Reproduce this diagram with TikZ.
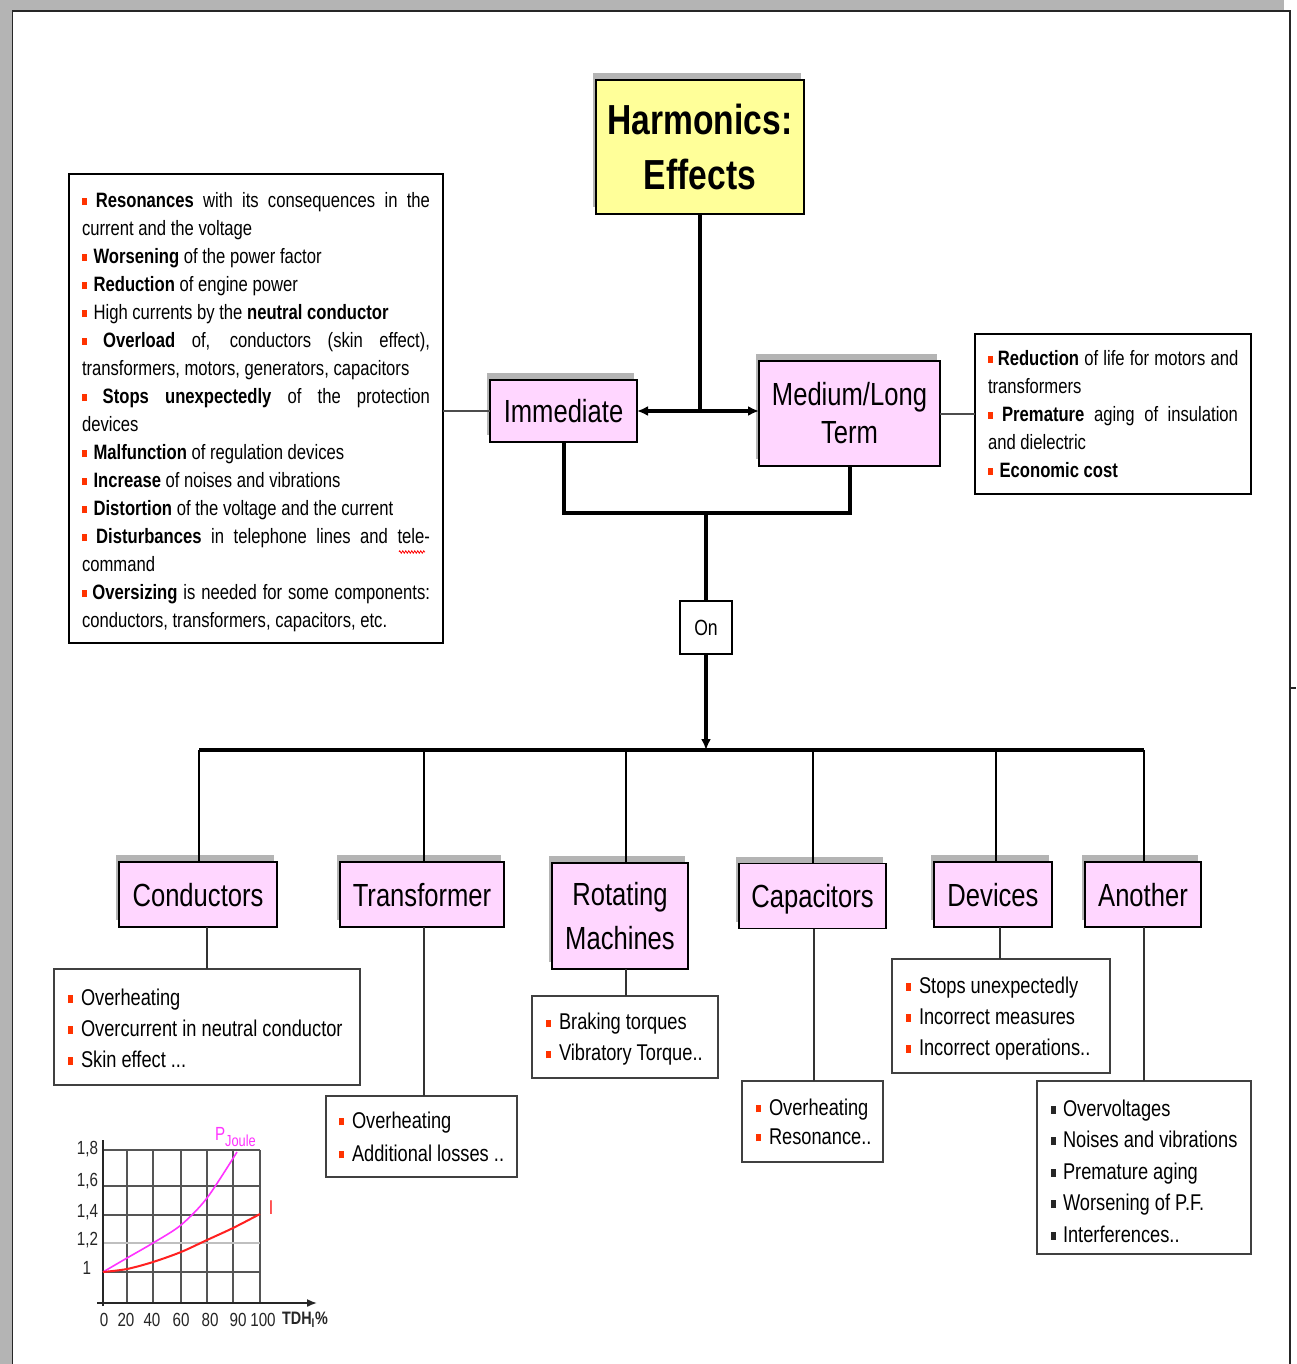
\documentclass[tikz,border=0pt]{standalone}
\usepackage{fontspec}
\setmainfont{Liberation Sans}[FakeStretch=0.8]
\usetikzlibrary{arrows.meta,calc,shadows,decorations.pathmorphing}
\definecolor{pinkbox}{HTML}{FFD6FF}
\definecolor{yelbox}{HTML}{FFFF99}
\definecolor{bred}{HTML}{FF3300}
\definecolor{shad}{HTML}{B4B4B4}
\definecolor{pagegray}{HTML}{B4B4B4}
\definecolor{magc}{HTML}{FF33FF}
\definecolor{curvered}{HTML}{FF2020}
\definecolor{gridc}{HTML}{555555}
\newcommand\bu{\textcolor{bred}{\rule[0.12em]{0.22em}{0.34em}}}
\newcommand\bt{\textcolor{bred}{\rule[0.12em]{0.22em}{0.34em}}\hspace{7pt}}
\newcommand\lb[1]{\mbox{\textcolor{bred}{\rule[0.12em]{0.22em}{0.34em}}\hspace{8pt}#1}}
\newcommand\bk[1]{\mbox{\textcolor{black!85}{\rule[0.12em]{0.22em}{0.34em}}\hspace{7pt}#1}}
\newcommand\jline[2]{\makebox[#1][s]{\spaceskip=0.25em plus 1fil\relax #2}}
\begin{document}
\begin{tikzpicture}[x=1pt,y=-1pt,
  every node/.style={inner sep=0pt,outer sep=0pt},
  shd/.style={drop shadow={shadow xshift=-3pt,shadow yshift=7pt,fill=shad,opacity=1}},
  labelbox/.style={shd,draw=black,line width=1.6,fill=pinkbox,align=center,font=\fontsize{32}{38}\selectfont},
  oneline/.style={text height=29pt,text depth=6pt},
  harmbox/.style={shd,draw=black,line width=1.6,fill=yelbox,align=center,font=\bfseries\fontsize{42}{55}\selectfont},
  listbox/.style={draw=black!75,line width=1.4,fill=white,align=flush left,inner xsep=14pt,inner ysep=0pt,anchor=north west,font=\fontsize{22.8}{31}\selectfont},
  tbox/.style={draw=black,line width=1.6,fill=white,align=flush left,inner xsep=13pt,inner ysep=0pt,anchor=north west,font=\fontsize{20.8}{28}\selectfont},
  mainline/.style={line width=3.2,black},
  uline/.style={line width=4,black},
  dropline/.style={line width=2.4,black},
  subline/.style={line width=1.5,black!80},
  sideline/.style={line width=2,black!70},
  arr/.style={-{Latex[length=11,width=10]}},
  chartlbl/.style={font=\fontsize{19}{20}\selectfont,text=black!85}
]
\useasboundingbox (0,0) rectangle (1296,1364);
% page
\fill[pagegray] (0,0) rectangle (1296,1364);
\fill[white] (12,11) rectangle (1296,1364);
\fill[white] (1284,0) rectangle (1296,11);
\draw[line width=2.5,black!85] (12,11) -- (1291,11);
\draw[line width=1.5,black!85] (12.5,11) -- (12.5,1364);
\draw[line width=1.5,black!85] (1290,11) -- (1290,1364);
\draw[line width=2,black!85] (1290,688) -- (1296,688);

% top nodes
\node[harmbox,minimum width=208,minimum height=134] (harm) at (700,147) {Harmonics:\\Effects};
\node[labelbox,oneline,minimum width=147,minimum height=62] (imm) at (563.5,411) {Immediate};
\node[labelbox,minimum width=181,minimum height=105] (med) at (849.5,413.5) {Medium/Long\\Term};
\node[draw=black,line width=1.4,fill=white,minimum width=52,minimum height=53,font=\fontsize{22}{26}\selectfont] (on) at (706,627.5) {On};

% left text box
\node[tbox,minimum width=374,minimum height=469,text width=348pt] (ltext) at (69,174) {%
\vphantom{Ag}\\[-20pt]
\jline{348pt}{\bu\ \textbf{Resonances} with its consequences in the}\\
current and the voltage\\
\bt\textbf{Worsening} of the power factor\\
\bt\textbf{Reduction} of engine power\\
\bt High currents by the \textbf{neutral conductor}\\
\jline{348pt}{\bu\ \textbf{Overload} of, conductors (skin effect),}\\
transformers, motors, generators, capacitors\\
\jline{348pt}{\bu\ \textbf{Stops unexpectedly} of the protection}\\
devices\\
\bt\textbf{Malfunction} of regulation devices\\
\bt\textbf{Increase} of noises and vibrations\\
\bt\textbf{Distortion} of the voltage and the current\\
\jline{348pt}{\bu\ \textbf{Disturbances} in telephone lines and tele-}\\
command\\
\jline{348pt}{\bu\ \textbf{Oversizing} is needed for some components:}\\
conductors, transformers, capacitors, etc.};

% right text box
\node[tbox,minimum width=276,minimum height=160,text width=250pt] (rtext) at (975,334) {%
\jline{250pt}{\bu\ \textbf{Reduction} of life for motors and}\\
transformers\\
\jline{250pt}{\bu\ \textbf{Premature} aging of insulation}\\
and dielectric\\
\bt\textbf{Economic cost}};

% bottom category nodes
\node[labelbox,oneline,minimum width=158,minimum height=65] (cond) at (198,894.5) {Conductors};
\node[labelbox,oneline,minimum width=164,minimum height=65] (trans) at (422,894.5) {Transformer};
\node[labelbox,minimum width=136,minimum height=106,font=\fontsize{32}{44}\selectfont] (rot) at (620,916) {Rotating\\Machines};
\node[labelbox,oneline,minimum width=147,minimum height=65] (cap) at (812.5,896) {Capacitors};
\node[labelbox,oneline,minimum width=118,minimum height=65] (dev) at (993,894.5) {Devices};
\node[labelbox,oneline,minimum width=116,minimum height=65] (ano) at (1143,894.5) {Another};

% lists
\node[listbox,minimum width=306,minimum height=116,text width=278pt] (lcond) at (54,969) {\vphantom{A}\\[-27pt]\lb{Overheating}\\\lb{Overcurrent in neutral conductor}\\\lb{Skin effect ...}};
\node[listbox,minimum width=191,minimum height=81,inner xsep=13pt,text width=165pt,font=\fontsize{22.8}{33}\selectfont] (ltrans) at (326,1096) {\lb{Overheating}\\\lb{Additional losses ..}};
\node[listbox,minimum width=186,minimum height=82,text width=158pt] (lrot) at (532,996) {\vphantom{A}\\[-25pt]\lb{Braking torques}\\\lb{Vibratory Torque..}};
\node[listbox,minimum width=141,minimum height=81,text width=113pt,font=\fontsize{22.8}{29}\selectfont] (lcap) at (742,1081) {\lb{Overheating}\\\lb{Resonance..}};
\node[listbox,minimum width=218,minimum height=114,text width=190pt] (ldev) at (892,959) {\vphantom{A}\\[-25pt]\lb{Stops unexpectedly}\\\lb{Incorrect measures}\\\lb{Incorrect operations..}};
\node[listbox,minimum width=214,minimum height=173,text width=186pt,font=\fontsize{22.8}{31.5}\selectfont] (lano) at (1037,1081) {\vphantom{A}\\[-23.5pt]\bk{Overvoltages}\\\bk{Noises and vibrations}\\\bk{Premature aging}\\\bk{Worsening of P.F.}\\\bk{Interferences..}};

% main connectors
\coordinate (J) at (harm.south |- imm.east);
\draw[mainline] (harm.south) -- (J);
\draw[mainline,arr] (J) -- (imm.east);
\draw[mainline,arr] (J) -- (J -| med.west);
\draw[sideline] (imm.west -| ltext.east) -- (imm.west);
\draw[sideline] (med.east) -- (med.east -| rtext.west);
\coordinate (bj) at (on.north |- 0,513);
\draw[uline] (imm.south) |- (bj) -| (med.south);
\draw[mainline] (bj) -- (on.north);
\coordinate (busy) at (0,750);
\draw[mainline,arr] (on.south) -- (on.south |- busy);
\draw[mainline] ([xshift=1pt]cond.north |- busy) -- ([xshift=1pt]ano.north |- busy);
\foreach \n/\s in {cond/1,trans/2,rot/6,cap/0.5,dev/3,ano/1}
  \draw[dropline] ([xshift=\s pt]\n.north |- busy) -- ([xshift=\s pt]\n.north);
\foreach \n/\m/\s in {cond/lcond/9,trans/ltrans/2,rot/lrot/6,cap/lcap/1.5,dev/ldev/7,ano/lano/1}
  \draw[subline] ([xshift=\s pt]\n.south) -- ([xshift=\s pt]\n.south |- \m.north);

% spell-check mark under "tele"
\draw[red,line width=0.8,decorate,decoration={zigzag,amplitude=1.2pt,segment length=3pt}] (399,552) -- (425,552);

% chart
\foreach \x in {127,153,181,207,233,260} \draw[gridc,line width=1.3] (\x,1150) -- (\x,1303);
\foreach \y in {1150,1186,1215,1272} \draw[gridc,line width=1.3] (103,\y) -- (260,\y);
\draw[black!25,line width=1.3] (103,1243) -- (260,1243);
\draw[line width=1.6,black!85] (103,1306) -- (103,1140);
\draw[line width=1.6,black!85,-{Latex[length=10,width=8]}] (97,1303) -- (317,1303);
\draw[magc,line width=1.6] plot[smooth] coordinates {(103,1272) (127,1258) (153,1243) (181,1225) (207,1198) (237,1152)};
\draw[curvered,line width=2] plot[smooth] coordinates {(103,1272) (127,1269) (153,1262) (181,1252) (207,1240) (233,1228) (260,1214)};
\node[chartlbl,anchor=east] (y18) at (98,1149) {1,8};
\node[chartlbl,anchor=east] (y16) at (98,1181) {1,6};
\node[chartlbl,anchor=east] (y14) at (98,1212) {1,4};
\node[chartlbl,anchor=east] (y12) at (98,1240) {1,2};
\node[chartlbl,anchor=east] (y10) at (91,1268) {1};
\foreach \x/\t [count=\i] in {104/0,126/20,152/40,181/60,210/80,238/90,263/100}
  \node[chartlbl] (xl\i) at (\x,1320) {\t};
\node[chartlbl,font=\bfseries\fontsize{18}{20}\selectfont] (xlt) at (305,1320) {TDH\textsubscript{I}\%};
\node[font=\fontsize{19}{20}\selectfont,text=magc,anchor=west] (pj) at (215,1137) {P\raisebox{-0.3em}{\fontsize{16}{18}\selectfont Joule}};
\node[font=\fontsize{20}{22}\selectfont,text=curvered] (il) at (271,1208) {I};
\end{tikzpicture}
\end{document}
